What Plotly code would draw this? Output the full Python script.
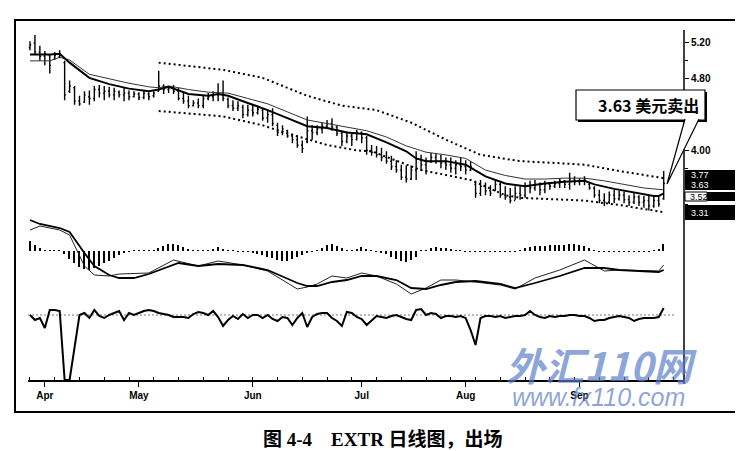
import plotly.graph_objects as go

W, H = 743, 451

# ---- daily bars (trading-day index 0..128) ----
highs = [5.22, 5.29, 5.17, 5.11, 5.07, 5.10, 5.12, 5.00, 4.78, 4.72,
         4.61, 4.66, 4.67, 4.72, 4.73, 4.72, 4.71, 4.70, 4.67, 4.70,
         4.67, 4.66, 4.65, 4.67, 4.65, 4.66, 4.89, 4.74, 4.72, 4.73,
         4.70, 4.65, 4.61, 4.56, 4.58, 4.61, 4.64, 4.66, 4.75, 4.78,
         4.59, 4.56, 4.55, 4.51, 4.51, 4.51, 4.50, 4.47, 4.44, 4.47,
         4.31, 4.28, 4.23, 4.19, 4.17, 4.11, 4.38, 4.28, 4.28, 4.31,
         4.34, 4.36, 4.28, 4.22, 4.21, 4.19, 4.23, 4.21, 4.16, 4.06,
         4.05, 4.03, 3.99, 3.94, 3.89, 3.84, 3.83, 3.83, 3.99, 3.95,
         3.92, 3.97, 3.96, 3.95, 3.92, 3.92, 3.89, 3.92, 3.89, 3.88,
         3.66, 3.67, 3.64, 3.61, 3.67, 3.64, 3.60, 3.58, 3.60, 3.60,
         3.64, 3.66, 3.67, 3.64, 3.66, 3.64, 3.66, 3.69, 3.67, 3.75,
         3.71, 3.69, 3.71, 3.64, 3.60, 3.56, 3.52, 3.54, 3.56, 3.55,
         3.54, 3.50, 3.52, 3.50, 3.49, 3.49, 3.49, 3.48, 3.77]
lows = [5.12, 5.07, 5.00, 4.95, 4.86, 5.01, 5.03, 4.56, 4.64, 4.51,
        4.50, 4.53, 4.51, 4.55, 4.59, 4.56, 4.59, 4.56, 4.59, 4.55,
        4.56, 4.59, 4.56, 4.57, 4.56, 4.59, 4.66, 4.63, 4.64, 4.63,
        4.56, 4.52, 4.47, 4.49, 4.47, 4.47, 4.56, 4.55, 4.55, 4.55,
        4.47, 4.44, 4.44, 4.36, 4.38, 4.38, 4.40, 4.33, 4.31, 4.27,
        4.16, 4.17, 4.14, 4.08, 4.03, 3.97, 4.08, 4.12, 4.17, 4.19,
        4.25, 4.22, 4.16, 4.05, 4.08, 4.05, 4.11, 4.08, 3.95, 3.94,
        3.92, 3.88, 3.85, 3.78, 3.75, 3.67, 3.64, 3.67, 3.67, 3.77,
        3.73, 3.86, 3.85, 3.80, 3.78, 3.75, 3.73, 3.77, 3.73, 3.77,
        3.47, 3.49, 3.50, 3.49, 3.55, 3.47, 3.45, 3.41, 3.45, 3.45,
        3.47, 3.52, 3.55, 3.50, 3.52, 3.56, 3.58, 3.58, 3.58, 3.56,
        3.61, 3.61, 3.61, 3.56, 3.47, 3.41, 3.38, 3.40, 3.41, 3.44,
        3.41, 3.38, 3.40, 3.38, 3.36, 3.33, 3.36, 3.37, 3.45]
opens = [5.15, 5.20, 5.10, 5.05, 5.06, 5.02, 5.05, 4.98, 4.66, 4.70,
         4.55, 4.54, 4.60, 4.58, 4.68, 4.64, 4.66, 4.62, 4.65, 4.62,
         4.64, 4.60, 4.63, 4.59, 4.63, 4.61, 4.66, 4.72, 4.68, 4.70,
         4.66, 4.58, 4.55, 4.50, 4.53, 4.50, 4.58, 4.60, 4.62, 4.64,
         4.57, 4.50, 4.47, 4.48, 4.40, 4.45, 4.42, 4.45, 4.36, 4.40,
         4.28, 4.20, 4.22, 4.16, 4.12, 4.06, 4.10, 4.22, 4.20, 4.24,
         4.27, 4.30, 4.26, 4.19, 4.10, 4.16, 4.12, 4.20, 4.14, 4.00,
         3.98, 3.95, 3.92, 3.88, 3.82, 3.78, 3.70, 3.68, 3.78, 3.90,
         3.84, 3.88, 3.92, 3.88, 3.86, 3.84, 3.80, 3.84, 3.82, 3.78,
         3.62, 3.52, 3.60, 3.55, 3.55, 3.62, 3.50, 3.48, 3.44, 3.52,
         3.50, 3.60, 3.58, 3.62, 3.56, 3.62, 3.60, 3.63, 3.66, 3.62,
         3.68, 3.65, 3.66, 3.62, 3.58, 3.50, 3.44, 3.42, 3.50, 3.46,
         3.50, 3.45, 3.42, 3.48, 3.42, 3.44, 3.38, 3.44, 3.46]
closes = [5.18, 5.10, 5.05, 5.08, 4.95, 5.06, 5.08, 4.62, 4.72, 4.55,
          4.52, 4.62, 4.58, 4.68, 4.64, 4.66, 4.62, 4.66, 4.62, 4.64,
          4.60, 4.63, 4.59, 4.64, 4.60, 4.64, 4.72, 4.68, 4.70, 4.66,
          4.58, 4.55, 4.50, 4.53, 4.50, 4.58, 4.60, 4.62, 4.64, 4.58,
          4.50, 4.47, 4.50, 4.40, 4.45, 4.42, 4.46, 4.36, 4.40, 4.30,
          4.20, 4.24, 4.16, 4.12, 4.06, 4.02, 4.22, 4.20, 4.24, 4.27,
          4.30, 4.26, 4.19, 4.10, 4.16, 4.12, 4.20, 4.14, 4.00, 3.98,
          3.95, 3.92, 3.88, 3.82, 3.78, 3.70, 3.68, 3.78, 3.90, 3.84,
          3.88, 3.92, 3.88, 3.86, 3.84, 3.80, 3.84, 3.82, 3.78, 3.82,
          3.52, 3.60, 3.55, 3.52, 3.62, 3.50, 3.48, 3.44, 3.52, 3.50,
          3.60, 3.58, 3.62, 3.56, 3.62, 3.60, 3.63, 3.66, 3.62, 3.68,
          3.65, 3.66, 3.68, 3.58, 3.50, 3.44, 3.42, 3.50, 3.46, 3.50,
          3.45, 3.42, 3.48, 3.42, 3.44, 3.38, 3.44, 3.40, 3.63]
days = list(range(len(closes)))

# ---- moving averages and envelope (read at selected days) ----
ma_fast_days = [0, 4, 6, 8, 12, 16, 20, 24, 26, 28, 32, 36, 38, 40, 44, 48, 52, 56, 60,
                64, 68, 72, 76, 78, 80, 84, 88, 92, 96, 100, 104, 108, 112, 114, 118,
                122, 126, 127, 128]
ma_fast = [5.07, 5.07, 5.08, 4.98, 4.81, 4.74, 4.69, 4.66, 4.68, 4.71, 4.63, 4.61, 4.63,
           4.61, 4.53, 4.45, 4.36, 4.27, 4.25, 4.20, 4.18, 4.09, 3.99, 3.91, 3.88, 3.88,
           3.84, 3.71, 3.63, 3.60, 3.63, 3.65, 3.66, 3.62, 3.57, 3.53, 3.49, 3.49, 3.52]
ma_slow_days = [0, 4, 6, 8, 12, 16, 20, 24, 26, 28, 32, 36, 40, 44, 48, 52, 56, 60, 64,
                68, 72, 76, 80, 84, 88, 92, 96, 100, 104, 108, 112, 116, 120, 124, 128]
ma_slow = [5.00, 5.00, 5.04, 5.01, 4.85, 4.80, 4.75, 4.71, 4.70, 4.72, 4.68, 4.65, 4.64,
           4.58, 4.52, 4.43, 4.34, 4.30, 4.26, 4.22, 4.15, 4.05, 3.98, 3.95, 3.91, 3.78,
           3.72, 3.68, 3.68, 3.69, 3.69, 3.66, 3.62, 3.58, 3.56]
env_up_days = [26, 39, 47, 52, 56, 63, 70, 77, 84, 91, 99, 106, 112, 119, 126, 128]
env_up = [4.98, 4.90, 4.81, 4.70, 4.61, 4.50, 4.45, 4.31, 4.12, 3.95, 3.88, 3.86, 3.84,
          3.77, 3.71, 3.69]
env_dn_days = [26, 39, 47, 52, 60, 66, 69, 79, 89, 92, 96, 99, 106, 112, 119, 126, 128]
env_dn = [4.44, 4.38, 4.28, 4.19, 4.06, 4.00, 3.99, 3.78, 3.67, 3.60, 3.50, 3.47, 3.45,
          3.44, 3.39, 3.33, 3.31]

# ---- MACD pane ----
macd_hist = [0.05, 0.03, 0.015, 0.005, 0.005, 0.005, 0.005, -0.015, -0.04, -0.06,
             -0.08, -0.09, -0.095, -0.085, -0.075, -0.06, -0.05, -0.035, -0.02, -0.01,
             -0.005, 0.003, 0.003, 0.003, 0.003, 0.005, 0.015, 0.025, 0.035, 0.035,
             0.03, 0.02, 0.01, 0.005, 0.005, 0.003, 0.005, 0.01, 0.02, 0.01,
             0.005, 0.003, -0.003, -0.005, -0.005, -0.01, -0.015, -0.02, -0.03, -0.035,
             -0.045, -0.05, -0.05, -0.04, -0.03, -0.02, -0.01, -0.005, 0.005, 0.015,
             0.03, 0.035, 0.025, 0.015, 0.005, 0.005, 0.01, 0.02, 0.01, 0.003,
             -0.005, -0.01, -0.015, -0.03, -0.04, -0.05, -0.055, -0.045, -0.03, 0.003,
             0.005, 0.015, 0.02, 0.015, 0.015, 0.01, 0.005, 0.003, -0.003, -0.005,
             -0.005, -0.005, -0.005, -0.005, -0.005, -0.003, -0.003, -0.003, -0.003, 0.003,
             0.015, 0.02, 0.025, 0.025, 0.025, 0.03, 0.03, 0.03, 0.03, 0.035,
             0.035, 0.03, 0.025, 0.015, 0.005, -0.003, -0.005, -0.005, -0.003, -0.003,
             -0.003, -0.003, -0.003, -0.003, -0.003, -0.003, 0.003, 0.01, 0.035]
macd_days = [0, 2, 6, 8, 11, 13, 16, 18, 24, 29, 34, 38, 43, 48, 54, 56, 58, 61, 64, 67,
             70, 74, 77, 80, 83, 86, 90, 95, 98, 102, 107, 112, 116, 119, 127, 128]
macd_line = [0.105, 0.125, 0.105, 0.08, -0.075, -0.12, -0.125, -0.115, -0.11, -0.045,
             -0.075, -0.05, -0.07, -0.10, -0.19, -0.18, -0.165, -0.125, -0.135, -0.11,
             -0.125, -0.165, -0.215, -0.185, -0.145, -0.145, -0.155, -0.17, -0.19, -0.135,
             -0.095, -0.045, -0.10, -0.095, -0.10, -0.07]
signal_days = [0, 2, 6, 8, 11, 13, 16, 18, 21, 24, 30, 34, 38, 43, 48, 54, 56, 58, 61, 64,
               67, 70, 74, 77, 80, 83, 86, 90, 95, 98, 102, 107, 112, 116, 119, 127, 128]
signal_line = [0.155, 0.135, 0.115, 0.095, -0.01, -0.075, -0.12, -0.135, -0.135, -0.115,
               -0.06, -0.075, -0.065, -0.07, -0.095, -0.16, -0.175, -0.175, -0.155, -0.145,
               -0.125, -0.125, -0.145, -0.185, -0.19, -0.17, -0.155, -0.15, -0.165, -0.185,
               -0.16, -0.125, -0.085, -0.085, -0.095, -0.105, -0.095]

# ---- lower oscillator ----
osc = [0.0, -0.5, -0.3, -1.3, 0.5, 0.5, 0.4, -6.5, -6.5, -3.3,
       0.0, 0.2, -0.3, 0.5, -0.1, -0.3, 0.0, 0.2, 0.4, -0.5,
       0.2, 0.0, 0.2, 0.4, 0.5, 0.4, 0.2, 0.1, 0.0, -0.2,
       -0.2, -0.2, -0.3, 0.1, 0.3, 0.2, 0.0, 0.4, -0.2, -1.1,
       -0.5, -0.1, -0.4, 0.1, -0.3, 0.0, 0.0, -0.3, 0.0, -0.4,
       -0.6, -0.2, -0.3, -1.0, -0.3, 0.2, -1.2, -0.2, 0.1, 0.2,
       0.2, -0.3, -0.6, -1.1, 0.3, 0.2, -0.2, -0.4, -1.0, -0.5,
       -0.1, -0.2, -0.3, -0.1, 0.0, -0.2, -0.4, -0.5, 0.5, 0.6,
       0.0, 0.2, 0.1, -0.3, -0.1, -0.1, -0.2, -0.1, -0.3, -1.5,
       -3.0, -0.3, -0.1, -0.1, -0.2, -0.1, -0.3, -0.2, -0.1, -0.1,
       0.0, 0.4, 0.0, -0.2, -0.3, -0.1, -0.2, -0.1, -0.1, 0.0,
       0.0, -0.1, -0.1, -0.3, -0.6, -0.5, -0.5, -0.3, -0.2, -0.1,
       -0.2, -0.3, -0.6, -0.4, -0.3, -0.3, -0.3, -0.2, 0.7]

# ---- axis text ----
month_days = [3, 22, 45, 67, 88, 111]
month_labels = ["Apr", "May", "Jun", "Jul", "Aug", "Sep"]
price_ticks = [5.2, 4.8, 4.0]
price_minor = [5.0, 4.6, 4.4, 4.2, 3.8, 3.6, 3.4]
side_labels = ["3.77", "3.63", "3.52", "3.31"]
callout_text = "3.63 美元卖出"
caption = "图 4-4\u00a0\u00a0\u00a0\u00a0EXTR 日线图，出场"


def fx(px):
    return px / W


def fy(py):
    return 1 - py / H


fig = go.Figure()

fig.add_trace(go.Ohlc(x=days, open=opens, high=highs, low=lows, close=closes,
                      increasing_line_color="black", decreasing_line_color="black",
                      line_width=1.4, tickwidth=0.25, hoverinfo="skip"))
fig.add_trace(go.Scatter(x=ma_slow_days, y=ma_slow, mode="lines",
                         line=dict(color="#333", width=1)))
fig.add_trace(go.Scatter(x=ma_fast_days, y=ma_fast, mode="lines",
                         line=dict(color="black", width=2)))
fig.add_trace(go.Scatter(x=env_up_days, y=env_up, mode="lines",
                         line=dict(color="black", width=2, dash="2px,3px")))
fig.add_trace(go.Scatter(x=env_dn_days, y=env_dn, mode="lines",
                         line=dict(color="black", width=2, dash="2px,3px")))

fig.add_trace(go.Bar(x=days, y=macd_hist, yaxis="y2", width=0.3,
                     marker=dict(color="black", line_width=0)))
fig.add_trace(go.Scatter(x=macd_days, y=macd_line, yaxis="y2", mode="lines",
                         line=dict(color="#222", width=1)))
fig.add_trace(go.Scatter(x=signal_days, y=signal_line, yaxis="y2", mode="lines",
                         line=dict(color="black", width=1.8)))

fig.add_trace(go.Scatter(x=days, y=osc, yaxis="y3", mode="lines",
                         line=dict(color="black", width=2)))

axis_font = dict(family="Arial, Liberation Sans", size=10, color="black", weight="bold")

fig.update_layout(
    width=W, height=H,
    margin=dict(l=0, r=0, t=0, b=0),
    paper_bgcolor="white", plot_bgcolor="white",
    showlegend=False,
    xaxis=dict(domain=[fx(20), fx(676)], range=[-0.4, 132.1], anchor="y3",
               showgrid=False, zeroline=False, showline=True, linecolor="black",
               linewidth=1.5, ticks="outside", ticklen=5, tickcolor="black",
               tickvals=month_days, ticktext=month_labels, tickfont=axis_font,
               minor=dict(tickmode="linear", tick0=0, dtick=5, ticks="inside",
                          ticklen=3, tickcolor="black"),
               rangeslider=dict(visible=False)),
    yaxis=dict(domain=[fy(215), fy(15)], range=[3.189, 5.423], side="right",
               anchor="free", position=fx(676), showgrid=False, zeroline=False,
               showline=False, ticks="outside", ticklen=4, tickcolor="black",
               tickvals=price_ticks, ticktext=["%.2f" % v for v in price_ticks],
               tickfont=axis_font,
               minor=dict(tickmode="array", tickvals=price_minor, ticks="outside",
                          ticklen=3, tickcolor="black")),
    yaxis2=dict(domain=[fy(292), fy(208)], range=[-0.245, 0.175], anchor="x",
                showgrid=False, zeroline=False, showticklabels=False, ticks=""),
    yaxis3=dict(domain=[fy(372), fy(290)], range=[-6.5, 1.7], anchor="x",
                showgrid=False, zeroline=False, showticklabels=False, ticks=""),
    bargap=0,
)

shapes = [
    # outer frame
    dict(type="rect", xref="paper", yref="paper", x0=fx(7), x1=fx(740), y0=fy(404),
         y1=fy(12), line=dict(color="black", width=2)),
    # right price scale line
    dict(type="line", xref="paper", yref="paper", x0=fx(676), x1=fx(676), y0=fy(376),
         y1=fy(22), line=dict(color="black", width=1.5)),
    # oscillator reference line
    dict(type="line", xref="paper", yref="y3", x0=fx(20), x1=fx(668), y0=0, y1=0,
         line=dict(color="#777", width=1, dash="2px,2px"), layer="below"),
    # callout shadow + box
    dict(type="rect", xref="paper", yref="paper", x0=fx(570), x1=fx(699), y0=fy(114),
         y1=fy(84), fillcolor="black", line=dict(width=0), layer="above"),
    dict(type="rect", xref="paper", yref="paper", x0=fx(568), x1=fx(697), y0=fy(112),
         y1=fy(82), fillcolor="white", line=dict(color="black", width=1.2), layer="above"),
    # callout pointer
    dict(type="path", xref="paper", yref="paper",
         path="M %.5f,%.5f L %.5f,%.5f L %.5f,%.5f" % (fx(677), fy(111), fx(659), fy(176),
                                                      fx(691), fy(111)),
         fillcolor="white", line=dict(color="black", width=1.2), layer="above"),
    # right side price labels
    dict(type="rect", xref="paper", yref="paper", x0=fx(677), x1=fx(735), y0=fy(182),
         y1=fy(162), fillcolor="black", line=dict(width=0), layer="above"),
    dict(type="rect", xref="paper", yref="paper", x0=fx(699), x1=fx(735), y0=fy(193),
         y1=fy(184), fillcolor="black", line=dict(width=0), layer="above"),
    dict(type="rect", xref="paper", yref="paper", x0=fx(677), x1=fx(699), y0=fy(193),
         y1=fy(184), fillcolor="white", line=dict(color="black", width=1), layer="above"),
    dict(type="rect", xref="paper", yref="paper", x0=fx(677), x1=fx(735), y0=fy(212),
         y1=fy(197), fillcolor="black", line=dict(width=0), layer="above"),
]
fig.update_layout(shapes=shapes)

small = dict(family="Arial, Liberation Sans", size=9, color="white")
label_pos = [(681, 167, "white"), (681, 177, "white"), (680, 189, "black"), (681, 205, "white")]
annotations = []
for txt, (lx, ly, col) in zip(side_labels, label_pos):
    annotations.append(dict(xref="paper", yref="paper", x=fx(lx), y=fy(ly), text=txt,
                            showarrow=False, xanchor="left", yanchor="middle",
                            font=dict(small, color=col)))
annotations += [
    dict(xref="paper", yref="paper", x=fx(640), y=fy(97), text=callout_text,
         showarrow=False, xanchor="center", yanchor="middle",
         font=dict(family="Noto Sans CJK SC", size=16, color="black", weight="bold")),
    dict(xref="paper", yref="paper", x=fx(593), y=fy(356), text="外汇110网",
         showarrow=False, xanchor="center", yanchor="middle",
         font=dict(family="Noto Sans CJK SC", size=39, color="rgba(90,125,200,0.7)",
                   weight="bold", style="italic")),
    dict(xref="paper", yref="paper", x=fx(590), y=fy(389), text="www.fx110.com",
         showarrow=False, xanchor="center", yanchor="middle",
         font=dict(family="Arial, Liberation Sans", size=25, color="rgba(90,125,200,0.7)",
                   style="italic")),
    dict(xref="paper", yref="paper", x=fx(375), y=fy(431), text=caption,
         showarrow=False, xanchor="center", yanchor="middle",
         font=dict(family="Liberation Serif, Noto Sans CJK SC", size=19, color="black",
                   weight="bold")),
]
fig.update_layout(annotations=annotations)

fig.write_html("out.html")
